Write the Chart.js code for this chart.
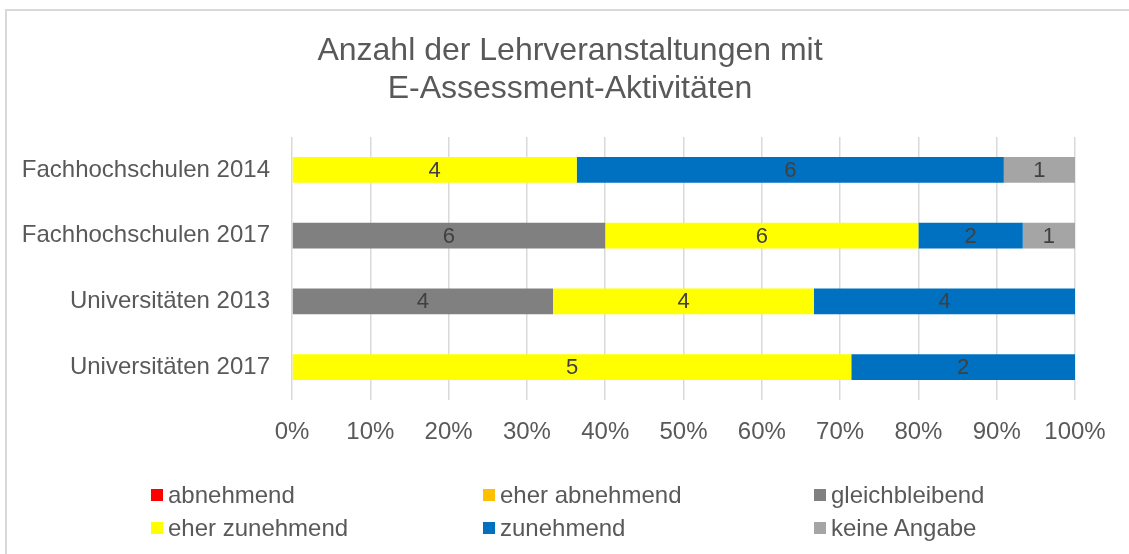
<!DOCTYPE html>
<html lang="de">
<head>
<meta charset="utf-8">
<title>Anzahl der Lehrveranstaltungen mit E-Assessment-Aktivitäten</title>
<script src="https://cdn.jsdelivr.net/npm/chart.js@4"></script>
<style>
    html, body { margin: 0; padding: 0; background: #fff; }
    body { width: 1129px; height: 554px; position: relative; overflow: hidden; font-family: "Liberation Sans", Arial, sans-serif; }
    #frame { position: absolute; left: 5px; top: 9px; width: 1200px; height: 700px; border: 2px solid #d9d9d9; box-sizing: border-box; }
    #chartWrap { position: absolute; left: 0; top: 0; width: 1129px; height: 554px; }
    #chartTitle { position: absolute; left: 0; top: 30px; width: 1140px; text-align: center; font-size: 32px; line-height: 38px; color: #595959; }
    #legend { position: absolute; left: 151px; top: 478px; display: grid; grid-template-columns: 332px 331px auto; grid-auto-rows: 33px; }
    .legend-item { display: flex; align-items: center; font-size: 24px; color: #595959; white-space: nowrap; }
    .legend-box { width: 12px; height: 12px; margin-right: 5px; flex: none; }
</style>
</head>
<body>
<div id="frame"></div>
<div id="chartWrap"><canvas id="lvChart" width="1129" height="554"></canvas></div>
<div id="chartTitle"></div>
<div id="legend"></div>

<script>
// Chart data
const categories = ['Fachhochschulen 2014', 'Fachhochschulen 2017', 'Universitäten 2013', 'Universitäten 2017'];
const seriesNames = ['abnehmend', 'eher abnehmend', 'gleichbleibend', 'eher zunehmend', 'zunehmend', 'keine Angabe'];
const seriesColors = ['#ff0000', '#ffc000', '#808080', '#ffff00', '#0070c0', '#a5a5a5'];

// counts per category (same order as categories)
const abnehmend = [0, 0, 0, 0];
const eherAbnehmend = [0, 0, 0, 0];
const gleichbleibend = [0, 6, 4, 0];
const eherZunehmend = [4, 6, 4, 5];
const zunehmend = [6, 2, 4, 2];
const keineAngabe = [1, 1, 0, 0];

const xTickStep = 10;
const chartTitle = ['Anzahl der Lehrveranstaltungen mit', 'E-Assessment-Aktivitäten'];

const fontFamily = '"Liberation Sans", Arial, sans-serif';
const textColor = '#595959';

document.addEventListener('DOMContentLoaded', function() {
    const counts = [abnehmend, eherAbnehmend, gleichbleibend, eherZunehmend, zunehmend, keineAngabe];
    const totals = categories.map((c, i) => counts.reduce((s, arr) => s + arr[i], 0));

    const datasets = counts.map((arr, k) => ({
        label: seriesNames[k],
        data: arr.map((v, i) => v / totals[i] * 100),
        counts: arr,
        backgroundColor: seriesColors[k],
        borderWidth: 0,
        categoryPercentage: 1,
        barPercentage: 0.395
    }));

    buildTitle();
    buildLegend();
    createChart(datasets);
});

// Value labels in the middle of every segment
const segmentLabels = {
    id: 'segmentLabels',
    afterDatasetsDraw(chart) {
        const ctx = chart.ctx;
        ctx.save();
        ctx.font = '22px ' + fontFamily;
        ctx.fillStyle = '#404040';
        ctx.textAlign = 'center';
        ctx.textBaseline = 'middle';
        chart.data.datasets.forEach((ds, k) => {
            const meta = chart.getDatasetMeta(k);
            meta.data.forEach((bar, i) => {
                const n = ds.counts[i];
                if (!n) return;
                const p = bar.getProps(['x', 'y', 'base'], true);
                ctx.fillText(String(n), (p.x + p.base) / 2, p.y + 1);
            });
        });
        ctx.restore();
    }
};

function createChart(datasets) {
    const ctx = document.getElementById('lvChart');

    new Chart(ctx, {
        type: 'bar',
        data: {
            labels: categories,
            datasets: datasets
        },
        options: {
            indexAxis: 'y',
            responsive: false,
            animation: false,
            layout: {
                padding: { left: 0, right: 54, top: 137, bottom: 0 }
            },
            plugins: {
                legend: { display: false },
                tooltip: { enabled: false },
                title: { display: false }
            },
            scales: {
                x: {
                    stacked: true,
                    min: 0,
                    max: 100,
                    border: { display: false },
                    grid: { color: '#d9d9d9', lineWidth: 1.5, drawTicks: false },
                    ticks: {
                        stepSize: xTickStep,
                        padding: 18,
                        color: textColor,
                        font: { family: fontFamily, size: 24 },
                        callback: v => v + '%'
                    },
                    afterFit: scale => { scale.height = 154; }
                },
                y: {
                    stacked: true,
                    border: { display: false },
                    grid: { display: false, drawTicks: false },
                    ticks: {
                        padding: 22,
                        color: textColor,
                        font: { family: fontFamily, size: 24 }
                    },
                    afterFit: scale => { scale.width = 292; }
                }
            }
        },
        plugins: [segmentLabels]
    });
}

// Title as HTML, centred on the whole frame like the original
function buildTitle() {
    const title = document.getElementById('chartTitle');
    chartTitle.forEach(line => {
        const div = document.createElement('div');
        div.textContent = line;
        title.appendChild(div);
    });
}

// HTML legend, three columns like the original
function buildLegend() {
    const legend = document.getElementById('legend');
    seriesNames.forEach((name, k) => {
        const item = document.createElement('div');
        item.className = 'legend-item';
        const box = document.createElement('span');
        box.className = 'legend-box';
        box.style.background = seriesColors[k];
        const label = document.createElement('span');
        label.textContent = name;
        item.appendChild(box);
        item.appendChild(label);
        legend.appendChild(item);
    });
}
</script>
</body>
</html>
